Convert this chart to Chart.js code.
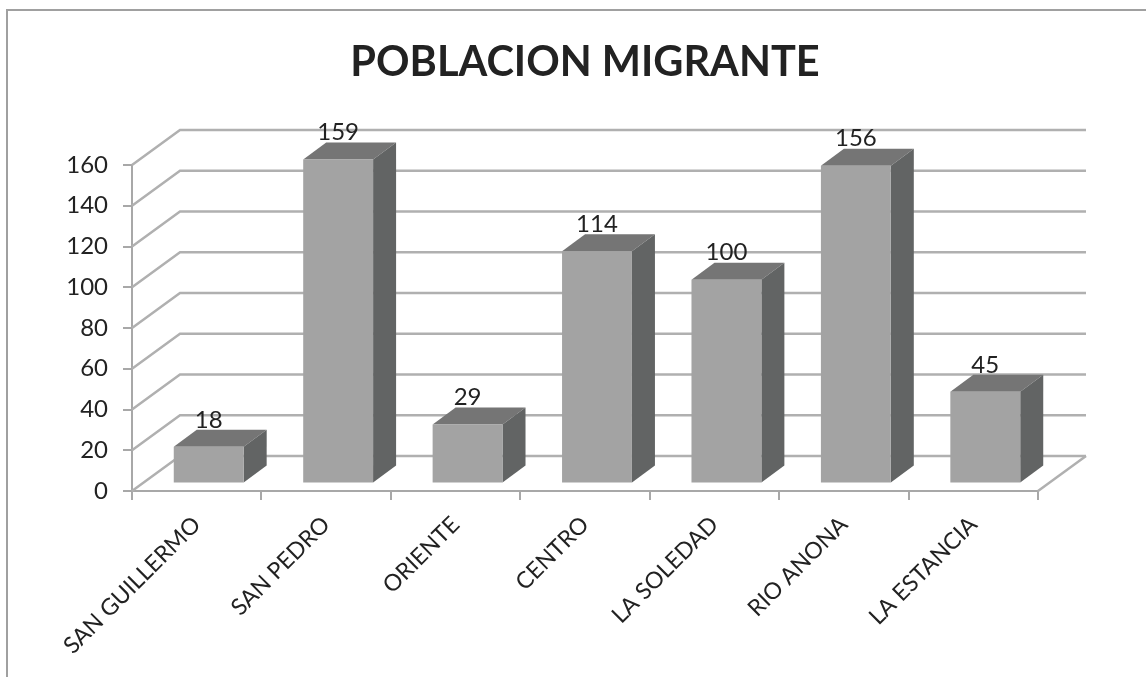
<!DOCTYPE html>
<html>
<head>
<meta charset="utf-8">
<title>Poblacion migrante</title>
<script src="https://cdn.jsdelivr.net/npm/chart.js@4"></script>
<style>
  html, body { margin: 0; padding: 0; background: #fff; overflow: hidden; }
  #wrap { position: relative; width: 1146px; height: 677px; }
  #frame { position: absolute; left: 6px; top: 9px; right: 0; bottom: 0; border-top: 2px solid #a0a0a0; border-left: 2px solid #a0a0a0; }
  #myChart { position: absolute; left: 0; top: 0; filter: blur(0.5px); }
</style>
</head>
<body>
<div id="wrap">
  <div id="frame"></div>
  <canvas id="myChart" width="1146" height="677"></canvas>
</div>
<script>
const titleText = "POBLACION MIGRANTE";
const categories = ["SAN GUILLERMO", "SAN PEDRO", "ORIENTE", "CENTRO", "LA SOLEDAD", "RIO ANONA", "LA ESTANCIA"];
const values = [18, 159, 29, 114, 100, 156, 45];
const yMax = 160;
const yStep = 20;

const fontName = "Lato, Carlito, Calibri, sans-serif";
const textColor = "#222222";

// fake 3d: wall depth and where the bars sit inside it
const wallDX = 48, wallDY = -35;
const barDX = 23, barDY = -17;
const shiftX = 12, shiftY = -7.5;

const fake3d = {
  id: "fake3d",
  beforeDatasetsDraw(chart) {
    const ctx = chart.ctx;
    const { left, right, bottom } = chart.chartArea;
    const y = chart.scales.y;

    ctx.save();
    ctx.strokeStyle = "#b0b0b0";
    ctx.lineWidth = 2.5;
    y.ticks.forEach((t) => {
      const py = y.getPixelForValue(t.value);
      ctx.beginPath();
      ctx.moveTo(left, py);
      ctx.lineTo(left + wallDX, py + wallDY);
      ctx.lineTo(right + wallDX, py + wallDY);
      ctx.stroke();
    });
    // right edge of the floor
    ctx.beginPath();
    ctx.moveTo(right, bottom);
    ctx.lineTo(right + wallDX, bottom + wallDY);
    ctx.stroke();

    // top and side of each bar
    chart.getDatasetMeta(0).data.forEach((bar) => {
      const x0 = bar.x - bar.width / 2 + shiftX;
      const x1 = bar.x + bar.width / 2 + shiftX;
      const top = bar.y + shiftY;
      const base = bar.base + shiftY;

      ctx.fillStyle = "#757575";
      ctx.beginPath();
      ctx.moveTo(x0, top);
      ctx.lineTo(x0 + barDX, top + barDY);
      ctx.lineTo(x1 + barDX, top + barDY);
      ctx.lineTo(x1, top);
      ctx.closePath();
      ctx.fill();

      ctx.fillStyle = "#626464";
      ctx.beginPath();
      ctx.moveTo(x1, top);
      ctx.lineTo(x1 + barDX, top + barDY);
      ctx.lineTo(x1 + barDX, base + barDY);
      ctx.lineTo(x1, base);
      ctx.closePath();
      ctx.fill();
    });
    ctx.restore();

    // front faces are the real bars, just moved into the wall
    ctx.save();
    ctx.translate(shiftX, shiftY);
  },
  afterDatasetsDraw(chart) {
    const ctx = chart.ctx;
    ctx.restore();

    ctx.save();
    ctx.fillStyle = textColor;
    ctx.font = "24px " + fontName;
    ctx.textAlign = "center";
    ctx.textBaseline = "middle";
    chart.getDatasetMeta(0).data.forEach((bar, i) => {
      ctx.fillText(String(values[i]), bar.x + shiftX, bar.y + shiftY - 27);
    });
    ctx.restore();
  },
};

new Chart(document.getElementById("myChart").getContext("2d"), {
  type: "bar",
  data: {
    labels: categories,
    datasets: [
      {
        data: values,
        backgroundColor: "#a3a3a3",
        borderWidth: 0,
        barPercentage: 0.54,
        categoryPercentage: 1,
        clip: false,
      },
    ],
  },
  options: {
    responsive: false,
    animation: false,
    layout: { padding: { right: 108 } },
    plugins: {
      legend: { display: false },
      tooltip: { enabled: false },
      title: {
        display: true,
        text: titleText,
        fullSize: false,
        color: textColor,
        font: { family: fontName, size: 41.5, weight: "bold", lineHeight: "48px" },
        padding: { top: 39, bottom: 78 },
      },
    },
    scales: {
      x: {
        afterFit(scale) { scale.height = 186; },
        border: { color: "#a8a8a8", width: 2 },
        grid: { drawOnChartArea: false, color: "#a8a8a8", tickLength: 9, lineWidth: 2 },
        ticks: {
          minRotation: 45,
          maxRotation: 45,
          color: textColor,
          padding: 11,
          font: { family: fontName, size: 23 },
        },
      },
      y: {
        min: 0,
        max: yMax,
        afterFit(scale) { scale.width = 132; },
        border: { color: "#a8a8a8", width: 2 },
        grid: { drawOnChartArea: false, color: "#a8a8a8", tickLength: 9, lineWidth: 2 },
        ticks: {
          stepSize: yStep,
          color: textColor,
          padding: 15,
          font: { family: fontName, size: 24 },
        },
      },
    },
  },
  plugins: [fake3d],
});
</script>
</body>
</html>
